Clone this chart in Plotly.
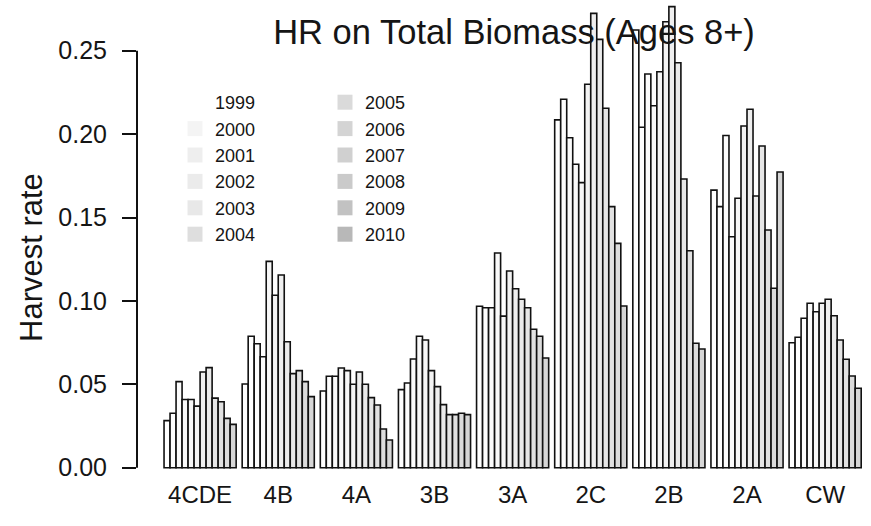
import plotly.graph_objects as go

# ---- data ----
regions = ["4CDE", "4B", "4A", "3B", "3A", "2C", "2B", "2A", "CW"]
years = [1999, 2000, 2001, 2002, 2003, 2004, 2005, 2006, 2007, 2008, 2009, 2010]

hr_4CDE = [0.0282, 0.0326, 0.0516, 0.0409, 0.0409, 0.0369, 0.0574, 0.0600, 0.0417, 0.0395, 0.0296, 0.0260]
hr_4B = [0.0502, 0.0788, 0.0743, 0.0665, 0.1237, 0.1034, 0.1155, 0.0755, 0.0564, 0.0582, 0.0516, 0.0426]
hr_4A = [0.0460, 0.0548, 0.0548, 0.0598, 0.0582, 0.0500, 0.0574, 0.0500, 0.0420, 0.0376, 0.0232, 0.0166]
hr_3B = [0.0468, 0.0508, 0.0652, 0.0788, 0.0766, 0.0582, 0.0486, 0.0378, 0.0318, 0.0318, 0.0326, 0.0318]
hr_3A = [0.0968, 0.0959, 0.0959, 0.1287, 0.0909, 0.1179, 0.1073, 0.1010, 0.0959, 0.0830, 0.0788, 0.0658]
hr_2C = [0.2085, 0.2209, 0.1978, 0.1819, 0.1709, 0.2299, 0.2724, 0.2568, 0.2155, 0.1565, 0.1345, 0.0969]
hr_2B = [0.2624, 0.2041, 0.2360, 0.2170, 0.2374, 0.2674, 0.2764, 0.2428, 0.1731, 0.1301, 0.0746, 0.0712]
hr_2A = [0.1664, 0.1565, 0.1992, 0.1385, 0.1615, 0.2049, 0.2149, 0.1629, 0.1929, 0.1425, 0.1076, 0.1773]
hr_CW = [0.0749, 0.0782, 0.0896, 0.0986, 0.0935, 0.0986, 0.1010, 0.0911, 0.0766, 0.0650, 0.0550, 0.0476]

y_ticks = [0.00, 0.05, 0.10, 0.15, 0.20, 0.25]

# fills: bars are nearly white, legend swatches a little darker
bar_fill = ["#ffffff", "#fefefe", "#fcfcfc", "#fafafa", "#f7f7f7", "#f3f3f3",
            "#efefef", "#ebebeb", "#e6e6e6", "#e1e1e1", "#dcdcdc", "#d6d6d6"]
legend_fill = ["#ffffff", "#f4f4f4", "#eeeeee", "#ebebeb", "#e8e8e8", "#dedede",
               "#dadada", "#d4d4d4", "#d0d0d0", "#cacaca", "#c2c2c2", "#b8b8b8"]

table = [hr_4CDE, hr_4B, hr_4A, hr_3B, hr_3A, hr_2C, hr_2B, hr_2A, hr_CW]

FONT = "Liberation Sans, Arial, sans-serif"
TXT = "#151515"

fig = go.Figure()
for i, yr in enumerate(years):
    fig.add_trace(go.Bar(
        x=regions,
        y=[row[i] for row in table],
        name=str(yr),
        marker=dict(color=bar_fill[i], line=dict(color="#111111", width=1.6)),
        showlegend=False,
    ))

# legend entries (swatches without border), split in two columns
for i, yr in enumerate(years):
    fig.add_trace(go.Scatter(
        x=[None], y=[None], mode="markers", name=str(yr),
        marker=dict(symbol="square", size=15, color=legend_fill[i], line=dict(width=0)),
        legend="legend" if i < 6 else "legend2",
        showlegend=True,
    ))

W, H = 871, 526
ml, mr, mt, mb = 137, 0, 0, 48
plot_w = W - ml - mr
plot_h = H - mt - mb

fig.update_layout(
    width=W, height=H,
    margin=dict(l=ml, r=mr, t=mt, b=mb, autoexpand=False),
    paper_bgcolor="white", plot_bgcolor="white",
    barmode="group", bargap=1 / 13, bargroupgap=0,
    font=dict(family=FONT, color=TXT),
    title=dict(text="HR on Total Biomass (Ages 8+)", x=514 / W, xref="container",
               xanchor="center", y=1 - 32 / H, yref="container", yanchor="middle",
               font=dict(size=34.5, family=FONT, color=TXT)),
    xaxis=dict(type="category", range=[-0.8076, 8.587], showgrid=False, showline=False,
               zeroline=False, ticks="", tickfont=dict(size=24, family=FONT, color=TXT),
               automargin=False),
    yaxis=dict(range=[-(478 - 467.7) / 1668, 467.7 / 1668], showgrid=False, showline=False,
               zeroline=False, tickvals=y_ticks, tickformat=".2f", ticks="outside",
               ticklen=14, tickwidth=2, tickcolor="#111111", ticklabelstandoff=10,
               tickfont=dict(size=25, family=FONT, color=TXT), automargin=False),
    legend=dict(x=(175 - ml) / plot_w, y=1 - 84 / plot_h, xanchor="left", yanchor="top",
                bgcolor="rgba(0,0,0,0)", font=dict(size=18, family=FONT, color=TXT),
                tracegroupgap=0),
    legend2=dict(x=(325 - ml) / plot_w, y=1 - 84 / plot_h, xanchor="left", yanchor="top",
                 bgcolor="rgba(0,0,0,0)", font=dict(size=18, family=FONT, color=TXT),
                 tracegroupgap=0),
    annotations=[dict(text="Harvest rate", textangle=-90, xref="paper", yref="paper",
                      x=(31 - ml) / plot_w, y=(478 - 258) / plot_h, xanchor="center",
                      yanchor="middle", showarrow=False,
                      font=dict(size=31, family=FONT, color=TXT))],
    shapes=[dict(type="line", xref="paper", yref="y", x0=0, x1=0,
                 y0=min(y_ticks), y1=max(y_ticks), line=dict(color="#111111", width=2))],
)

# remove the browser's default 8px page margin so the figure sits at the window origin
fig.write_html("out.html", config={"displayModeBar": False},
               post_script="document.body.style.margin='0px';")
